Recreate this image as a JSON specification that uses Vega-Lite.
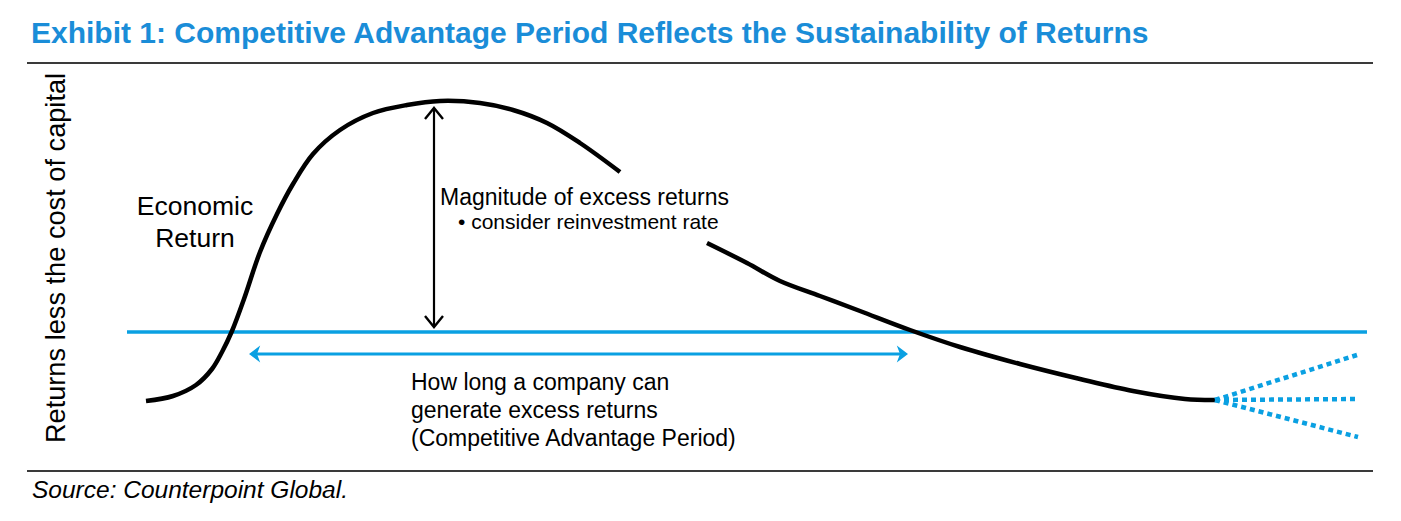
{
  "$schema": "https://vega.github.io/schema/vega-lite/v6.json",
  "width": 1401,
  "height": 521,
  "padding": 0,
  "autosize": {"type": "fit", "contains": "padding"},
  "background": "white",
  "config": {"view": {"stroke": null}, "text": {"font": "Liberation Sans"}},
  "datasets": {
    "frame": [
      {"part": "top rule", "x": 27, "x2": 1373, "y": 269},
      {"part": "bottom rule", "x": 27, "x2": 1373, "y": -139}
    ],
    "cost": [{"x": 127, "x2": 1367, "y": 0}],
    "period": [{"x": 253, "x2": 904, "y": -22}],
    "periodHeads": [
      {"x": 257, "y": -22, "dir": "left"},
      {"x": 900, "y": -22, "dir": "right"}
    ],
    "magnitude": [{"x": 434, "y": 222, "y2": 7}],
    "magnitudeHeads": [
      {"x": 425, "y": 213, "head": "top"},
      {"x": 434, "y": 224, "head": "top"},
      {"x": 443, "y": 213, "head": "top"},
      {"x": 425, "y": 16, "head": "bottom"},
      {"x": 434, "y": 5, "head": "bottom"},
      {"x": 443, "y": 16, "head": "bottom"}
    ],
    "curve": [
      {"x": 146, "y": -69, "seg": "a"},
      {"x": 173, "y": -64, "seg": "a"},
      {"x": 196, "y": -53, "seg": "a"},
      {"x": 212, "y": -37, "seg": "a"},
      {"x": 222, "y": -20, "seg": "a"},
      {"x": 232, "y": 1, "seg": "a"},
      {"x": 244, "y": 33, "seg": "a"},
      {"x": 260, "y": 80, "seg": "a"},
      {"x": 277, "y": 118, "seg": "a"},
      {"x": 293, "y": 148, "seg": "a"},
      {"x": 313, "y": 178, "seg": "a"},
      {"x": 340, "y": 202, "seg": "a"},
      {"x": 373, "y": 219, "seg": "a"},
      {"x": 407, "y": 227, "seg": "a"},
      {"x": 440, "y": 231, "seg": "a"},
      {"x": 480, "y": 229, "seg": "a"},
      {"x": 513, "y": 222, "seg": "a"},
      {"x": 547, "y": 209, "seg": "a"},
      {"x": 580, "y": 189, "seg": "a"},
      {"x": 620, "y": 160, "seg": "a"},
      {"x": 707, "y": 89, "seg": "b"},
      {"x": 747, "y": 69, "seg": "b"},
      {"x": 780, "y": 51, "seg": "b"},
      {"x": 820, "y": 36, "seg": "b"},
      {"x": 860, "y": 21, "seg": "b"},
      {"x": 910, "y": 2, "seg": "b"},
      {"x": 960, "y": -15, "seg": "b"},
      {"x": 1020, "y": -32, "seg": "b"},
      {"x": 1080, "y": -47, "seg": "b"},
      {"x": 1133, "y": -59, "seg": "b"},
      {"x": 1185, "y": -67, "seg": "b"},
      {"x": 1215, "y": -68, "seg": "b"}
    ],
    "paths": [
      {"x": 1215, "y": -68, "path": "up"},
      {"x": 1357, "y": -23, "path": "up"},
      {"x": 1215, "y": -68, "path": "flat"},
      {"x": 1359, "y": -67, "path": "flat"},
      {"x": 1215, "y": -68, "path": "down"},
      {"x": 1358, "y": -105, "path": "down"}
    ],
    "title": [{"x": 31, "y": 289, "label": "Exhibit 1: Competitive Advantage Period Reflects the Sustainability of Returns"}],
    "curveLabel": [
      {"x": 195, "y": 117, "label": "Economic"},
      {"x": 195, "y": 85, "label": "Return"}
    ],
    "magLabel": [{"x": 440, "y": 127, "label": "Magnitude of excess returns"}],
    "magNote": [{"x": 458, "y": 103, "label": "• consider reinvestment rate"}],
    "periodLabel": [
      {"x": 411, "y": -58, "label": "How long a company can"},
      {"x": 411, "y": -86, "label": "generate excess returns"},
      {"x": 411, "y": -114, "label": "(Competitive Advantage Period)"}
    ],
    "source": [{"x": 32, "y": -166, "label": "Source: Counterpoint Global."}],
    "yTitle": [{"x": 65, "y": 74, "label": "Returns less the cost of capital"}]
  },
  "encoding": {
    "x": {"field": "x", "type": "quantitative", "scale": {"domain": [0, 1401], "nice": false, "zero": false}, "axis": null},
    "y": {"field": "y", "type": "quantitative", "scale": {"domain": [-189, 332], "nice": false, "zero": false}, "axis": null}
  },
  "layer": [
    {
      "data": {"name": "frame"},
      "mark": {"type": "rule", "stroke": "#3a3a3a", "strokeWidth": 2},
      "encoding": {"x2": {"field": "x2"}}
    },
    {
      "data": {"name": "cost"},
      "mark": {"type": "rule", "stroke": "#0aa0e2", "strokeWidth": 3.5},
      "encoding": {"x2": {"field": "x2"}}
    },
    {
      "data": {"name": "period"},
      "mark": {"type": "rule", "stroke": "#0aa0e2", "strokeWidth": 3},
      "encoding": {"x2": {"field": "x2"}}
    },
    {
      "data": {"name": "periodHeads"},
      "mark": {"type": "point", "filled": true, "size": 256, "color": "#0aa0e2", "opacity": 1, "strokeWidth": 0},
      "encoding": {
        "shape": {
          "field": "dir",
          "type": "nominal",
          "scale": {
            "domain": ["left", "right"],
            "range": ["M -1 0 L 0.4 -1.05 L 0 0 L 0.4 1.05 Z", "M 1 0 L -0.4 -1.05 L 0 0 L -0.4 1.05 Z"]
          },
          "legend": null
        }
      }
    },
    {
      "data": {"name": "magnitude"},
      "mark": {"type": "rule", "stroke": "black", "strokeWidth": 2.2},
      "encoding": {"y2": {"field": "y2"}}
    },
    {
      "data": {"name": "magnitudeHeads"},
      "mark": {"type": "line", "stroke": "black", "strokeWidth": 2.4},
      "encoding": {"detail": {"field": "head", "type": "nominal"}}
    },
    {
      "data": {"name": "curve"},
      "mark": {"type": "line", "stroke": "black", "strokeWidth": 4.5, "interpolate": "catmull-rom"},
      "encoding": {"detail": {"field": "seg", "type": "nominal"}}
    },
    {
      "data": {"name": "paths"},
      "mark": {"type": "line", "stroke": "#0aa0e2", "strokeWidth": 4.5, "strokeDash": [5, 4]},
      "encoding": {"detail": {"field": "path", "type": "nominal"}}
    },
    {
      "data": {"name": "title"},
      "mark": {"type": "text", "align": "left", "baseline": "alphabetic", "fontSize": 30, "fontWeight": "bold", "color": "#1a8dd8"},
      "encoding": {"text": {"field": "label"}}
    },
    {
      "data": {"name": "curveLabel"},
      "mark": {"type": "text", "align": "center", "baseline": "alphabetic", "fontSize": 26.5, "color": "black"},
      "encoding": {"text": {"field": "label"}}
    },
    {
      "data": {"name": "magLabel"},
      "mark": {"type": "text", "align": "left", "baseline": "alphabetic", "fontSize": 23, "color": "black"},
      "encoding": {"text": {"field": "label"}}
    },
    {
      "data": {"name": "magNote"},
      "mark": {"type": "text", "align": "left", "baseline": "alphabetic", "fontSize": 21, "color": "black"},
      "encoding": {"text": {"field": "label"}}
    },
    {
      "data": {"name": "periodLabel"},
      "mark": {"type": "text", "align": "left", "baseline": "alphabetic", "fontSize": 23, "color": "black"},
      "encoding": {"text": {"field": "label"}}
    },
    {
      "data": {"name": "source"},
      "mark": {"type": "text", "align": "left", "baseline": "alphabetic", "fontSize": 24.5, "fontStyle": "italic", "color": "black"},
      "encoding": {"text": {"field": "label"}}
    },
    {
      "data": {"name": "yTitle"},
      "mark": {"type": "text", "align": "center", "baseline": "alphabetic", "angle": 270, "fontSize": 27.2, "color": "black"},
      "encoding": {"text": {"field": "label"}}
    }
  ]
}
